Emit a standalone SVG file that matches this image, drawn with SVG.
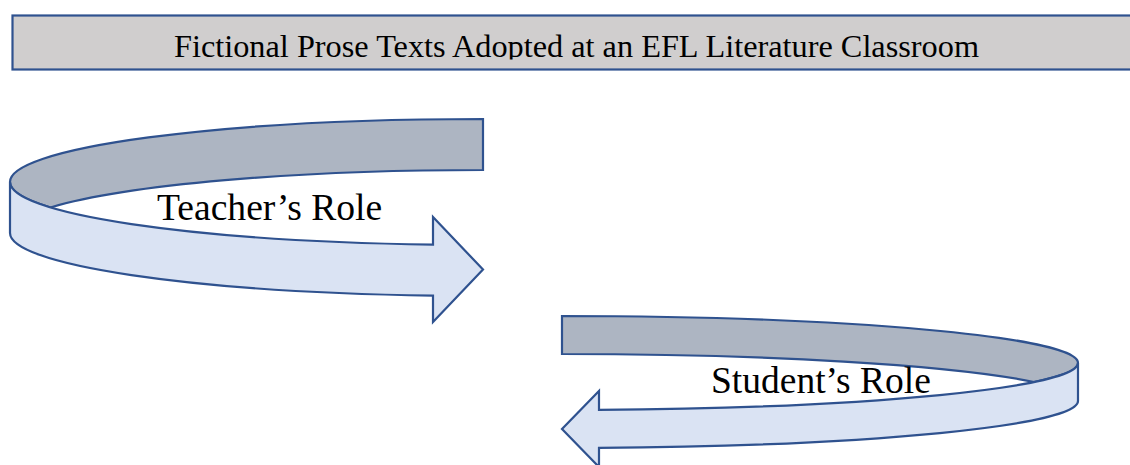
<svg xmlns="http://www.w3.org/2000/svg" width="1130" height="465" viewBox="0 0 1130 465">
  <defs>
    <style>
      .outline { stroke: #2F528F; stroke-width: 2.2; stroke-linejoin: miter; }
      .back { fill: #ADB5C2; }
      .front { fill: #DAE3F3; }
      .label { font-family: "Liberation Serif", "Times New Roman", serif; fill: #000; }
    </style>
    <clipPath id="titleClip">
      <rect x="12" y="15" width="1130" height="44.5"/>
    </clipPath>
  </defs>

  <!-- Title banner -->
  <g id="title">
    <rect x="12.5" y="15.5" width="1130" height="54" fill="#D0CECE" class="outline"/>
    <text class="label" x="576.5" y="56.5" font-size="32.3" text-anchor="middle" clip-path="url(#titleClip)">Fictional Prose Texts Adopted at an EFL Literature Classroom</text>
  </g>

  <!-- Curved ribbon arrow turning right -->
  <g id="teacher-role">
    <path class="back outline" d="M483,119 A473,63 0 0 0 10,182 A473,63 0 0 0 50.5,207.5 A473,63 0 0 1 483,170 Z"/>
    <path class="front outline" d="M10,182 A473,63 0 0 0 433,244.6 L433,217 L483,269.5 L433,322 L433,295.6 A473,63 0 0 1 10,233 Z"/>
    <text class="label" x="157" y="220" font-size="37.6">Teacher’s Role</text>
  </g>

  <!-- Curved ribbon arrow turning left -->
  <g id="student-role">
    <path class="back outline" d="M562,316 A516,47 0 0 1 1078,363 A516,47 0 0 1 1034,382 A516,47 0 0 0 562,354 Z"/>
    <path class="front outline" d="M1078,363 A516,47 0 0 1 599,409.9 L599,391 L562,429 L599,467 L599,447.9 A516,47 0 0 0 1078,401 Z"/>
    <text class="label" x="711" y="393" font-size="37.5">Student’s Role</text>
  </g>

  <g id="connectors"/>
</svg>
